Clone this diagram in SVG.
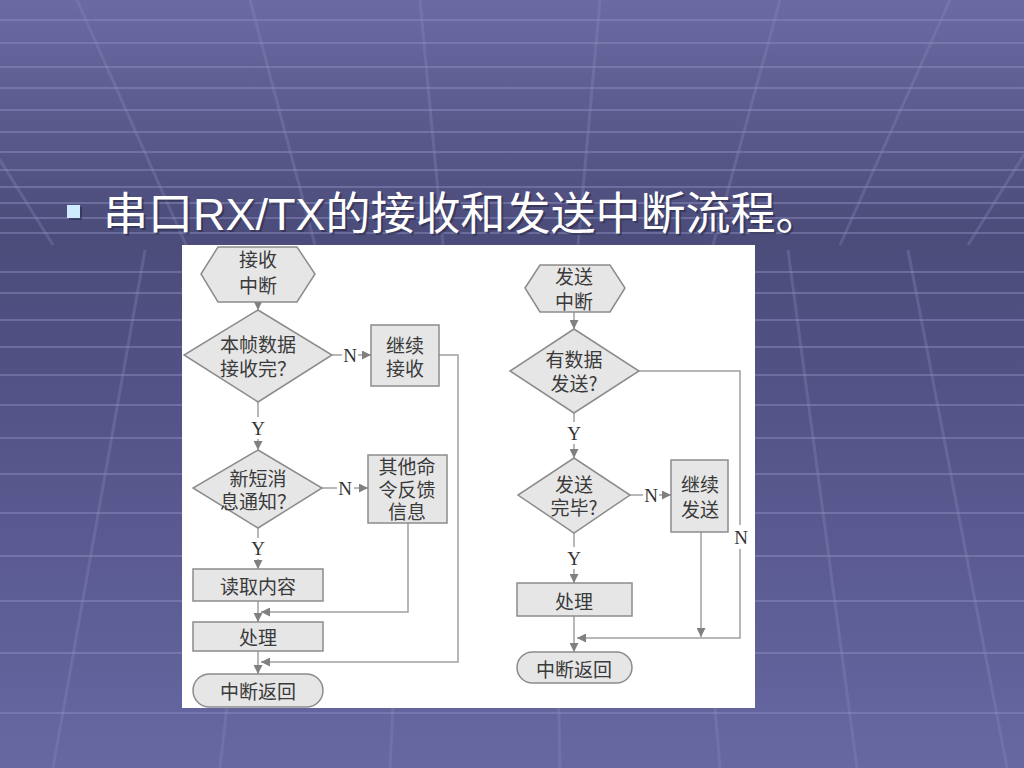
<svg xmlns="http://www.w3.org/2000/svg" width="1024" height="768" viewBox="0 0 1024 768">
<defs>
<linearGradient id="bg" x1="0" y1="0" x2="0" y2="1">
<stop offset="0" stop-color="#6b6aa3"/>
<stop offset="0.3" stop-color="#4c4c7a"/>
<stop offset="0.45" stop-color="#505083"/>
<stop offset="1" stop-color="#6767a2"/>
</linearGradient>
<marker id="ah" viewBox="0 0 10 10" refX="10" refY="5" markerWidth="9" markerHeight="9" markerUnits="userSpaceOnUse" orient="auto">
<path d="M0,0 L10,5 L0,10 z" fill="#808080"/>
</marker>
<style>
.hl{stroke:#9090c4;stroke-width:2;opacity:0.45}
.rl{stroke:#8d8dbf;stroke-width:3;opacity:0.3}
.nd{fill:#e6e6e6;stroke:#8c8c8c;stroke-width:1.5}
.cn{fill:none;stroke:#a0a0a0;stroke-width:1.5}
.ar{fill:none;stroke:#a0a0a0;stroke-width:1.5;marker-end:url(#ah)}
.t{font-family:"Noto Sans CJK SC","Noto Sans CJK JP",sans-serif;font-size:19px;fill:#3a3a3a;text-anchor:middle;dominant-baseline:central}
.yn{font-family:"Liberation Serif",serif;font-size:19px;fill:#333;text-anchor:middle;dominant-baseline:central}
.ti{font-family:"Noto Sans CJK SC","Noto Sans CJK JP",sans-serif;font-size:45px}
</style>
</defs>
<rect x="0" y="0" width="1024" height="768" fill="url(#bg)"/>
<g id="background-grid">
<line class="hl" x1="0" y1="20" x2="1024" y2="20"/>
<line class="hl" x1="0" y1="43" x2="1024" y2="43"/>
<line class="hl" x1="0" y1="67" x2="1024" y2="67"/>
<line class="hl" x1="0" y1="88" x2="1024" y2="88"/>
<line class="hl" x1="0" y1="110" x2="1024" y2="110"/>
<line class="hl" x1="0" y1="132" x2="1024" y2="132"/>
<line class="hl" x1="0" y1="152" x2="1024" y2="152"/>
<line class="hl" x1="0" y1="170" x2="1024" y2="170"/>
<line class="hl" x1="0" y1="187" x2="1024" y2="187"/>
<line class="hl" x1="0" y1="203" x2="1024" y2="203"/>
<line class="hl" x1="0" y1="218" x2="1024" y2="218"/>
<line class="hl" x1="0" y1="233" x2="1024" y2="233"/>
<line class="hl" x1="0" y1="272" x2="1024" y2="272"/>
<line class="hl" x1="0" y1="293" x2="1024" y2="293"/>
<line class="hl" x1="0" y1="320" x2="1024" y2="320"/>
<line class="hl" x1="0" y1="347" x2="1024" y2="347"/>
<line class="hl" x1="0" y1="375" x2="1024" y2="375"/>
<line class="hl" x1="0" y1="405" x2="1024" y2="405"/>
<line class="hl" x1="0" y1="438" x2="1024" y2="438"/>
<line class="hl" x1="0" y1="474" x2="1024" y2="474"/>
<line class="hl" x1="0" y1="513" x2="1024" y2="513"/>
<line class="hl" x1="0" y1="556" x2="1024" y2="556"/>
<line class="hl" x1="0" y1="601" x2="1024" y2="601"/>
<line class="hl" x1="0" y1="653" x2="1024" y2="653"/>
<line class="hl" x1="0" y1="713" x2="1024" y2="713"/>
<line class="rl" x1="-100" y1="0" x2="53" y2="245"/>
<line class="rl" x1="77" y1="0" x2="186" y2="245"/>
<line class="rl" x1="250" y1="0" x2="315" y2="245"/>
<line class="rl" x1="420" y1="0" x2="443" y2="245"/>
<line class="rl" x1="600" y1="0" x2="578" y2="245"/>
<line class="rl" x1="780" y1="0" x2="713" y2="245"/>
<line class="rl" x1="950" y1="0" x2="840" y2="245"/>
<line class="rl" x1="1120" y1="0" x2="968" y2="245"/>
<line class="rl" x1="-27" y1="250" x2="-160" y2="768"/>
<line class="rl" x1="145" y1="250" x2="53" y2="768"/>
<line class="rl" x1="278" y1="250" x2="220" y2="768"/>
<line class="rl" x1="414" y1="250" x2="390" y2="768"/>
<line class="rl" x1="550" y1="250" x2="560" y2="768"/>
<line class="rl" x1="678" y1="250" x2="720" y2="768"/>
<line class="rl" x1="788" y1="250" x2="857" y2="768"/>
<line class="rl" x1="908" y1="250" x2="1007" y2="768"/>
<line class="rl" x1="1030" y1="250" x2="1160" y2="768"/>
</g>
<g id="title">
<rect x="69" y="207" width="13" height="13" fill="#2a2a4a" opacity="0.6"/>
<rect x="67" y="205" width="13" height="13" fill="#cdeaff"/>
<text class="ti" x="105" y="232" fill="#2a2a48" opacity="0.6">串口<tspan font-family="Liberation Sans, sans-serif">RX/TX</tspan>的接收和发送中断流程。</text>
<text class="ti" x="103" y="230" fill="#ffffff">串口<tspan font-family="Liberation Sans, sans-serif">RX/TX</tspan>的接收和发送中断流程。</text>
</g>
<rect id="panel" x="182" y="245" width="573" height="463" fill="#ffffff"/>
<g id="connectors">
<line class="ar" x1="258" y1="302" x2="258" y2="310"/>
<line class="cn" x1="332" y1="355" x2="342" y2="355"/>
<line class="ar" x1="358" y1="355" x2="371" y2="355"/>
<polyline class="ar" points="439,355 458,355 458,662 261,662"/>
<line class="cn" x1="258" y1="402" x2="258" y2="417"/>
<line class="ar" x1="258" y1="439" x2="258" y2="450"/>
<line class="cn" x1="322" y1="488" x2="337" y2="488"/>
<line class="ar" x1="354" y1="488" x2="368" y2="488"/>
<polyline class="ar" points="408,523 408,612 261,612"/>
<line class="cn" x1="258" y1="528" x2="258" y2="538"/>
<line class="ar" x1="258" y1="559" x2="258" y2="569"/>
<line class="ar" x1="258" y1="601" x2="258" y2="622"/>
<line class="ar" x1="258" y1="651" x2="258" y2="674"/>
<line class="ar" x1="574" y1="312" x2="574" y2="329"/>
<polyline class="cn" points="639,371 740,371 740,525"/>
<polyline class="ar" points="740,549 740,638 577,638"/>
<line class="cn" x1="574" y1="413" x2="574" y2="422"/>
<line class="ar" x1="574" y1="444" x2="574" y2="458"/>
<line class="cn" x1="630" y1="495" x2="643" y2="495"/>
<line class="ar" x1="659" y1="495" x2="671" y2="495"/>
<line class="ar" x1="701" y1="532" x2="701" y2="637"/>
<line class="cn" x1="574" y1="533" x2="574" y2="547"/>
<line class="ar" x1="574" y1="569" x2="574" y2="583"/>
<line class="ar" x1="574" y1="616" x2="574" y2="652"/>
<text class="yn" x="350" y="355">N</text>
<text class="yn" x="258" y="428">Y</text>
<text class="yn" x="345" y="488">N</text>
<text class="yn" x="258" y="548">Y</text>
<text class="yn" x="741" y="537">N</text>
<text class="yn" x="574" y="433">Y</text>
<text class="yn" x="651" y="495">N</text>
<text class="yn" x="574" y="558">Y</text>
</g>
<g id="rx-start">
<polygon class="nd" points="201,274 218,247 297,247 315,274 297,302 218,302"/>
<text class="t" x="258" y="258">接收</text>
<text class="t" x="258" y="284">中断</text>
</g>
<g id="rx-frame-done">
<polygon class="nd" points="258,310 332,355 258,402 184,355"/>
<text class="t" x="258" y="343">本帧数据</text>
<text class="t" x="258" y="367">接收完？</text>
</g>
<g id="rx-continue">
<rect class="nd" x="371" y="325" width="68" height="61"/>
<text class="t" x="405" y="344">继续</text>
<text class="t" x="405" y="367">接收</text>
</g>
<g id="rx-new-sms">
<polygon class="nd" points="258,450 322,488 258,528 193,488"/>
<text class="t" x="258" y="477">新短消</text>
<text class="t" x="258" y="500">息通知？</text>
</g>
<g id="rx-other">
<rect class="nd" x="368" y="455" width="79" height="68"/>
<text class="t" x="407" y="465">其他命</text>
<text class="t" x="407" y="488">令反馈</text>
<text class="t" x="407" y="510">信息</text>
</g>
<g id="rx-read">
<rect class="nd" x="193" y="569" width="130" height="32"/>
<text class="t" x="258" y="585">读取内容</text>
</g>
<g id="rx-process">
<rect class="nd" x="193" y="622" width="130" height="29"/>
<text class="t" x="258" y="636">处理</text>
</g>
<g id="rx-return">
<rect class="nd" x="193" y="674" width="130" height="33" rx="16.5"/>
<text class="t" x="258" y="690">中断返回</text>
</g>
<g id="tx-start">
<polygon class="nd" points="525,288 540,265 610,265 625,288 610,312 540,312"/>
<text class="t" x="574" y="275">发送</text>
<text class="t" x="574" y="300">中断</text>
</g>
<g id="tx-has-data">
<polygon class="nd" points="574,329 639,371 574,413 510,371"/>
<text class="t" x="574" y="358">有数据</text>
<text class="t" x="574" y="382">发送?</text>
</g>
<g id="tx-done">
<polygon class="nd" points="574,458 630,495 574,533 518,495"/>
<text class="t" x="574" y="483">发送</text>
<text class="t" x="574" y="506">完毕?</text>
</g>
<g id="tx-continue">
<rect class="nd" x="671" y="460" width="57" height="72"/>
<text class="t" x="700" y="483">继续</text>
<text class="t" x="700" y="508">发送</text>
</g>
<g id="tx-process">
<rect class="nd" x="517" y="583" width="115" height="33"/>
<text class="t" x="574" y="600">处理</text>
</g>
<g id="tx-return">
<rect class="nd" x="517" y="652" width="115" height="31" rx="15.5"/>
<text class="t" x="574" y="668">中断返回</text>
</g>
</svg>
